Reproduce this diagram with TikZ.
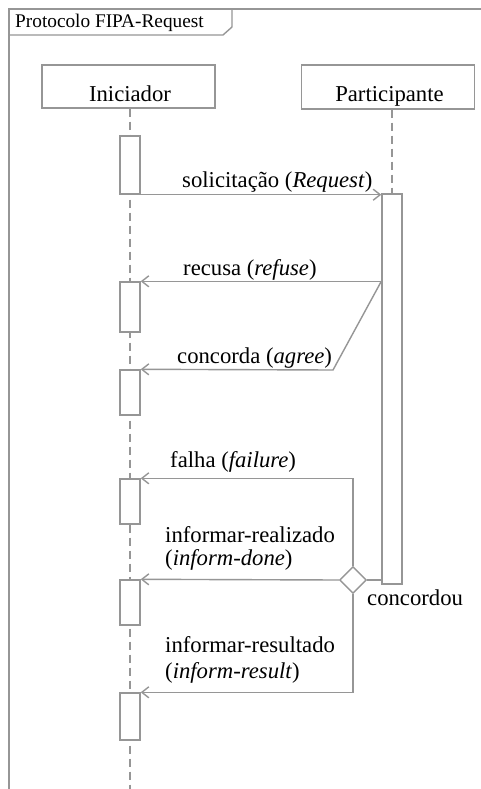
\documentclass[tikz,border=0pt]{standalone}
\usepackage{fontspec}
\setmainfont{Liberation Serif}
\usetikzlibrary{arrows.meta,shapes.geometric}
\definecolor{linegray}{RGB}{150,150,150}
\begin{document}
\begin{tikzpicture}[x=1pt,y=-1pt,
  line/.style={draw=linegray,line width=1.4pt},
  lifeline/.style={draw=linegray,line width=1.4pt,dash pattern=on 8pt off 5pt},
  actor/.style={draw=linegray,line width=1.4pt,fill=white,minimum width=173pt,minimum height=43pt,inner sep=0pt},
  activation/.style={draw=linegray,line width=1.4pt,fill=white,minimum width=20pt,inner sep=0pt},
  decision/.style={diamond,draw=linegray,line width=1.4pt,fill=white,minimum width=27pt,minimum height=27pt,inner sep=0pt},
  msg/.style={line,-{Straight Barb[length=7pt,width=11pt]}},
  lbl/.style={font=\fontsize{22.7}{22}\selectfont,inner sep=0pt,anchor=base west},
]
\useasboundingbox (0,0) rectangle (480,789);
\fill[white] (0,0) rectangle (480,789);

% frame with its name tab
\draw[line] (9,800) -- (9,9) -- (490,9);
\draw[line] (9,35) -- (223,35) -- (232,27) -- (232,9);
\node[lbl,font=\fontsize{19.3}{20}\selectfont] (title) at (15,28) {Protocolo FIPA-Request};

% lifeline heads
\node[actor] (ini) at (128.5,86.5) {};
\node[lbl,anchor=base] (iniText) at (130,102) {Iniciador};
\node[actor,minimum height=44pt] (par) at (388,87) {};
\node[lbl,anchor=base] (parText) at (389.5,102) {Participante};

% lifelines and activation bars
\coordinate (iniBottom) at (130,800);
\draw[lifeline] (ini.south -| iniBottom) -- (iniBottom);
\node[activation,minimum height=390pt] (pact) at (392,389) {};
\draw[lifeline] (pact.north |- par.south) -- (pact.north);
\node[activation,minimum height=58pt] (a1) at (130,165) {};
\node[activation,minimum height=50pt] (a2) at (130,307) {};
\node[activation,minimum height=45pt] (a3) at (130,392.5) {};
\node[activation,minimum height=45pt] (a4) at (130,501.5) {};
\node[activation,minimum height=45pt] (a5) at (130,602.5) {};
\node[activation,minimum height=47pt] (a6) at (130,716.5) {};

% decision point
\node[decision] (dec) at (353,580) {};
\coordinate (agreeBend) at (333,370);

% messages
\draw[msg] (a1.south east) -- (a1.south east -| pact.west);
\draw[msg] (a2.north east -| pact.west) -- (a2.north east);
\draw[msg] (a2.north east -| pact.west) -- (agreeBend) -- (a3.north east);
\draw[line] (dec.east) -- (dec.east -| pact.west);
\draw[msg] (dec.north) -- (dec.north |- a4.north) -- (a4.north east);
\draw[msg] (dec.west) -- (a5.north east);
\draw[msg] (dec.south) -- (dec.south |- a6.north) -- (a6.north east);

% message labels
\node[lbl] (lReq) at (182,187) {solicitação (\textit{Request})};
\node[lbl] (lRef) at (183,275) {recusa (\textit{refuse})};
\node[lbl] (lAgr) at (177,363) {concorda (\textit{agree})};
\node[lbl] (lFail) at (170,467) {falha (\textit{failure})};
\node[lbl] (lDone1) at (165,542) {informar-realizado};
\node[lbl] (lDone2) at (165,565) {(\textit{inform-done})};
\node[lbl] (lRes1) at (165,652) {informar-resultado};
\node[lbl] (lRes2) at (165,678) {(\textit{inform-result})};
\node[lbl] (lAgreed) at (367,605) {concordou};
\end{tikzpicture}
\end{document}
